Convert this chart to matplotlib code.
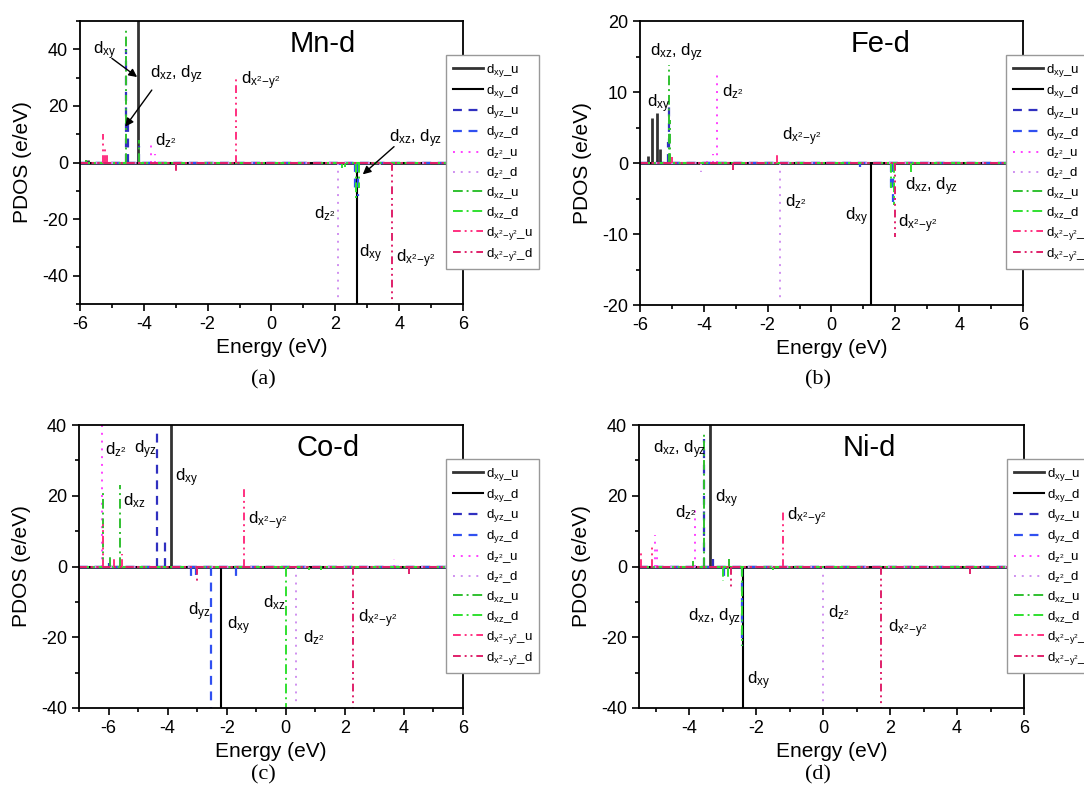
import matplotlib
matplotlib.use('Agg')
from matplotlib import pyplot
from matplotlib.ticker import MultipleLocator

# Projected DOS peaks (energy in eV, PDOS in e/eV) for each d orbital,
# spin up (u) and spin down (d).
MN_XY_U = [(-5.75, 0.8), (-4.18, 60)]
MN_XY_D = [(2.67, -60)]
MN_YZ_U = [(-4.56, 40), (-4.50, 14), (-4.15, 6)]
MN_YZ_D = [(2.62, -10), (2.72, -12), (2.15, -1)]
MN_Z2_U = [(-3.78, 7.5), (-3.65, 3), (-5.2, 2)]
MN_Z2_D = [(2.07, -60), (3.4, -1.2)]
MN_XZ_U = [(-4.56, 48), (-4.15, 8), (-5.8, 1)]
MN_XZ_D = [(2.64, -13), (2.74, -9), (2.2, -2), (2.3, -1.5)]
MN_X2_U = [(-5.29, 10), (-5.22, 6), (-5.15, 3), (-1.1, 29.5)]
MN_X2_D = [(3.77, -60), (-3.0, -4)]

FE_XY_U = [(-5.75, 1), (-5.63, 6.3), (-5.48, 7.0), (-5.38, 2)]
FE_XY_D = [(1.23, -20.5)]
FE_YZ_U = [(-5.08, 8), (-5.12, 3)]
FE_YZ_D = [(1.85, -4), (1.92, -5.5), (0.9, -0.5)]
FE_Z2_U = [(-3.58, 13.1), (-3.7, 1.2), (-3.9, 1.0)]
FE_Z2_D = [(-1.61, -19.5), (-4.1, -1.2)]
FE_XZ_U = [(-5.08, 13.8), (-5.05, 6)]
FE_XZ_D = [(1.85, -3.5), (1.95, -5.9), (2.5, -1.2)]
FE_X2_U = [(-1.72, 1.3), (-5.0, 0.8)]
FE_X2_D = [(1.99, -10.4), (-3.1, -1.0)]

CO_XY_U = [(-3.9, 45)]
CO_XY_D = [(-2.2, -45)]
CO_YZ_U = [(-4.35, 39), (-4.08, 7.4), (-6.0, 1)]
CO_YZ_D = [(-2.52, -45), (-3.2, -3), (-3.05, -2.5), (-1.67, -3)]
CO_Z2_U = [(-6.23, 45), (3.65, 2)]
CO_Z2_D = [(0.36, -39)]
CO_XZ_U = [(-6.2, 20.7), (-5.61, 23), (-5.95, 3)]
CO_XZ_D = [(0.02, -45), (0.8, -1), (1.2, -1)]
CO_X2_U = [(-6.2, 12), (-5.8, 3), (-5.55, 3.5), (-1.4, 22)]
CO_X2_D = [(2.27, -45), (-3.0, -4), (4.18, -2)]

NI_XY_U = [(-3.38, 45)]
NI_XY_D = [(-2.4, -45)]
NI_YZ_U = [(-3.56, 36), (-3.3, 2)]
NI_YZ_D = [(-2.42, -22.4), (-2.95, -3)]
NI_Z2_U = [(-3.83, 16.8), (-5.02, 8.8), (-4.95, 6)]
NI_Z2_D = [(0.0, -45)]
NI_XZ_U = [(-3.56, 38), (-2.8, 2), (-3.9, 1.5)]
NI_XZ_D = [(-2.42, -22.4), (-3.0, -4), (-2.85, -3), (-1.5, -1)]
NI_X2_U = [(-5.45, 4), (-5.1, 5.5), (-1.21, 15.4)]
NI_X2_D = [(1.74, -45), (-2.75, -6), (4.38, -2)]

LABELS = ['d$_{xy}$_u', 'd$_{xy}$_d', 'd$_{yz}$_u', 'd$_{yz}$_d',
          'd$_{z^2}$_u', 'd$_{z^2}$_d', 'd$_{xz}$_u', 'd$_{xz}$_d',
          r'd$_{x^2\!-\!y^2}$_u', r'd$_{x^2\!-\!y^2}$_d']

DXY = 'd$_{xy}$'
DYZ = 'd$_{yz}$'
DXZ = 'd$_{xz}$'
DZ2 = 'd$_{z^2}$'
DX2 = r'd$_{x^2\!-\!y^2}$'
DXZYZ = 'd$_{xz}$, d$_{yz}$'

# Orbital labels placed inside each panel (x, y, text).
MN_NOTES = [(-5.59, 39.6, DXY), (-3.80, 30.9, DXZYZ), (-3.64, 7.7, DZ2),
            (-0.97, 28.8, DX2), (3.69, 8.4, DXZYZ), (1.33, -17.9, DZ2),
            (2.74, -32.3, DXY), (3.90, -34.0, DX2)]
FE_NOTES = [(-5.69, 15.6, DXZYZ), (-5.78, 8.3, DXY), (-3.43, 10.1, DZ2),
            (-1.55, 3.7, DX2), (-1.45, -5.5, DZ2), (0.43, -7.5, DXY),
            (2.31, -3.4, DXZYZ), (2.09, -8.5, DX2)]
CO_NOTES = [(-6.12, 32.9, DZ2), (-5.14, 32.9, DYZ), (-5.51, 18.7, DXZ),
            (-3.76, 25.2, DXY), (-1.29, 13.0, DX2), (-3.32, -12.8, DYZ),
            (-2.00, -16.7, DXY), (-0.78, -10.2, DXZ), (0.57, -20.1, DZ2),
            (2.43, -14.8, DX2)]
NI_NOTES = [(-5.08, 32.9, DXZYZ), (-3.23, 19.3, DXY), (-4.43, 15.3, DZ2),
            (-1.08, 14.2, DX2), (-4.04, -14.5, DXZYZ), (-2.28, -32.3, DXY),
            (0.14, -13.0, DZ2), (1.93, -17.6, DX2)]

# Arrows in the Mn panel: (tail, head).
MN_ARROWS = [((-5.0, 36.8), (-4.21, 30.2)),
             ((-3.75, 25.6), (-4.58, 12.7)),
             ((3.84, 5.6), (2.86, -4.2))]

STYLES = [
    dict(color='#333333', linestyle='-', linewidth=2.0),
    dict(color='black', linestyle='-', linewidth=1.5),
    dict(color='#3030c0', linestyle=(0, (4, 3)), linewidth=1.6),
    dict(color='#3050f0', linestyle=(0, (4, 3)), linewidth=1.6),
    dict(color='#ff40ff', linestyle=(0, (1, 3)), linewidth=1.4),
    dict(color='#d090f0', linestyle=(0, (1, 3)), linewidth=1.4),
    dict(color='#30c030', linestyle=(0, (5, 2, 1, 2)), linewidth=1.4),
    dict(color='#30e030', linestyle=(0, (5, 2, 1, 2)), linewidth=1.4),
    dict(color='#ff3080', linestyle=(0, (4, 2, 1, 2, 1, 2)), linewidth=1.4),
    dict(color='#e0206a', linestyle=(0, (4, 2, 1, 2, 1, 2)), linewidth=1.4),
]

pyplot.rcParams['font.family'] = 'Liberation Sans'
pyplot.rcParams['mathtext.fontset'] = 'custom'
pyplot.rcParams['mathtext.rm'] = 'Liberation Sans'
pyplot.rcParams['mathtext.it'] = 'Liberation Sans'
pyplot.rcParams['mathtext.default'] = 'rm'
pyplot.rcParams['axes.unicode_minus'] = False

fig = pyplot.figure(figsize=(10.84, 7.90), dpi=100)


def draw_panel(rect, series, xlim, ylim, ymajor, title, title_x, notes,
               tag, tag_x, tag_y):
    ax = fig.add_axes(rect)
    handles = []
    for peaks, style, label in zip(series, STYLES, LABELS):
        line, = ax.plot(xlim, [0, 0], label=label, **style)
        handles.append(line)
        energies = [e for e, h in peaks]
        heights = [h for e, h in peaks]
        ax.vlines(energies, 0, heights, **style)
    ax.set_xlim(xlim)
    ax.set_ylim(ylim)
    ax.xaxis.set_major_locator(MultipleLocator(2))
    ax.xaxis.set_minor_locator(MultipleLocator(1))
    ax.yaxis.set_major_locator(MultipleLocator(ymajor))
    ax.yaxis.set_minor_locator(MultipleLocator(ymajor / 2))
    ax.tick_params(which='both', direction='out', top=False, right=False,
                   labelsize=13, width=1.2)
    ax.tick_params(which='major', length=5)
    ax.tick_params(which='minor', length=3)
    for spine in ax.spines.values():
        spine.set_linewidth(1.3)
    ax.set_xlabel('Energy (eV)', fontsize=15, labelpad=4)
    ax.set_ylabel('PDOS (e/eV)', fontsize=15)
    ax.yaxis.set_label_coords(-0.125, 0.5)
    ax.text(title_x, 0.92, title, transform=ax.transAxes, fontsize=21,
            ha='center', va='center')
    for x, y, text in notes:
        ax.text(x, y, text, fontsize=12, ha='left', va='center')
    leg = ax.legend(handles=handles, loc='upper left',
                    bbox_to_anchor=(0.956, 0.88), borderaxespad=0,
                    fontsize=9.5, handlelength=2.3, handletextpad=0.2,
                    labelspacing=0.3, borderpad=0.5,
                    fancybox=False, edgecolor='#999999', framealpha=1)
    leg.get_frame().set_linewidth(1.0)
    leg.set_zorder(5)
    fig.text(tag_x, tag_y, tag, family='Liberation Serif', fontsize=16,
             ha='center', va='center')
    return ax


ax_a = draw_panel([0.0738, 0.6152, 0.3533, 0.3582],
                  [MN_XY_U, MN_XY_D, MN_YZ_U, MN_YZ_D, MN_Z2_U, MN_Z2_D,
                   MN_XZ_U, MN_XZ_D, MN_X2_U, MN_X2_D],
                  (-6, 6), (-50, 50), 20, 'Mn-d', 0.635, MN_NOTES,
                  '(a)', 263 / 1084, 1 - 380 / 790)
for tail, head in MN_ARROWS:
    ax_a.annotate('', xy=head, xytext=tail,
                  arrowprops=dict(arrowstyle='-|>', color='black', lw=1.0,
                                  mutation_scale=12, shrinkA=0, shrinkB=0))

draw_panel([0.5904, 0.6139, 0.3533, 0.3595],
           [FE_XY_U, FE_XY_D, FE_YZ_U, FE_YZ_D, FE_Z2_U, FE_Z2_D,
            FE_XZ_U, FE_XZ_D, FE_X2_U, FE_X2_D],
           (-6, 6), (-20, 20), 10, 'Fe-d', 0.627, FE_NOTES,
           '(b)', 818 / 1084, 1 - 380 / 790)

draw_panel([0.0729, 0.1038, 0.3542, 0.3582],
           [CO_XY_U, CO_XY_D, CO_YZ_U, CO_YZ_D, CO_Z2_U, CO_Z2_D,
            CO_XZ_U, CO_XZ_D, CO_X2_U, CO_X2_D],
           (-7, 6), (-40, 40), 20, 'Co-d', 0.648, CO_NOTES,
           '(c)', 263 / 1084, 1 - 775 / 790)

draw_panel([0.5895, 0.1038, 0.3552, 0.3582],
           [NI_XY_U, NI_XY_D, NI_YZ_U, NI_YZ_D, NI_Z2_U, NI_Z2_D,
            NI_XZ_U, NI_XZ_D, NI_X2_U, NI_X2_D],
           (-5.5, 6), (-40, 40), 20, 'Ni-d', 0.597, NI_NOTES,
           '(d)', 818 / 1084, 1 - 775 / 790)

fig.savefig('out.png', dpi=100)
